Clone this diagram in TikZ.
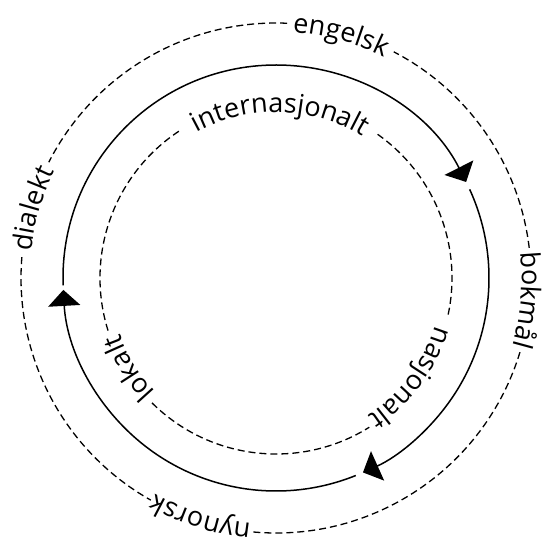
\documentclass[tikz,border=0pt]{standalone}
\usepackage{fontspec}
\setmainfont{Open Sans}
\usetikzlibrary{arrows.meta,decorations.text}
\tikzset{
  ring/.style = {draw, line width=1.3pt, dash pattern=on 7pt off 4pt},
  flow/.style = {draw, line width=1.5pt, -{Triangle[length=16pt, width=32pt]}},
  lbl/.style  = {decorate, decoration={text along path, text align=center,
                 text={|\fontsize{27}{30}\selectfont|#1}}}
}
\begin{document}
\begin{tikzpicture}
  \useasboundingbox (0,0) rectangle (543pt,539pt);
  \coordinate (c) at (276pt,261pt);
  % outer ring
  \foreach \a/\b in {87.5/153, 175.3/240.6, 264.9/343.1, 6.8/62.5}
    \draw[ring] (c) ++(\a:255pt) arc[start angle=\a, end angle=\b, radius=255pt];
  \path[lbl=engelsk] (c) ++(105:246pt) arc[start angle=105, end angle=45, radius=246pt];
  \path[lbl=bokmål]  (c) ++(25:246pt) arc[start angle=25, end angle=-35, radius=246pt];
  \path[lbl=nynorsk] (c) ++(282.5:247pt) arc[start angle=282.5, end angle=222.5, radius=247pt];
  \path[lbl=dialekt] (c) ++(194:246pt) arc[start angle=194, end angle=134, radius=246pt];
  % middle ring, clockwise
  \foreach \a/\b in {182/26.8, 24.6/-65.9, -68/-176.8}
    \draw[flow] (c) ++(\a:213pt) arc[start angle=\a, end angle=\b, radius=213pt];
  % inner ring
  \foreach \a/\b in {123.5/198, 225.2/302, 348/415.1}
    \draw[ring] (c) ++(\a:176pt) arc[start angle=\a, end angle=\b, radius=176pt];
  \path[lbl=internasjonalt] (c) ++(138.6:166pt) arc[start angle=138.6, end angle=38.6, radius=166pt];
  \path[lbl=nasjonalt] (c) ++(13.5:166pt) arc[start angle=13.5, end angle=-86.5, radius=166pt];
  \path[lbl=lokalt] (c) ++(251.5:166pt) arc[start angle=251.5, end angle=171.5, radius=166pt];
\end{tikzpicture}
\end{document}
